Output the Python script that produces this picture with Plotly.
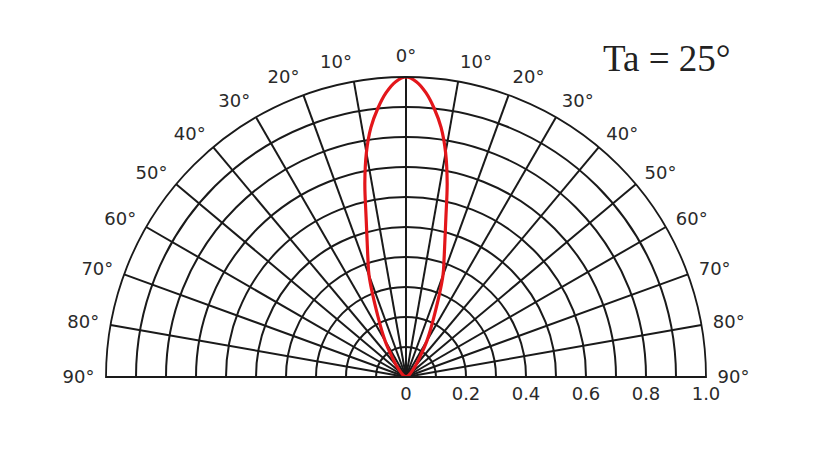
import plotly.graph_objects as go

# Beam pattern (angle in degrees off axis, relative intensity)
angles = [0, 2, 4, 6, 8, 10, 12, 14, 16, 18, 20, 25, 30, 35, 40, 50, 60, 70, 80, 90]
intensity = [1.0, 0.985, 0.95, 0.90, 0.84, 0.76, 0.66, 0.55, 0.47, 0.41, 0.36, 0.22, 0.14, 0.08, 0.05, 0.02, 0.01, 0.0, 0.0, 0.0]

angle_ticks = [-90, -80, -70, -60, -50, -40, -30, -20, -10, 0, 10, 20, 30, 40, 50, 60, 70, 80, 90]
angle_labels = [f"{abs(a)}°" for a in angle_ticks]
radial_ticks = [0, 0.1, 0.2, 0.3, 0.4, 0.5, 0.6, 0.7, 0.8, 0.9, 1.0]
radial_labels = ["0", "", "0.2", "", "0.4", "", "0.6", "", "0.8", "", "1.0"]
title_text = "Ta = 25°"

theta = [-a for a in reversed(angles)] + angles[1:]
r = list(reversed(intensity)) + intensity[1:]

fig = go.Figure()
fig.add_trace(go.Scatterpolar(
    r=r, theta=theta, mode="lines",
    line=dict(color="#e3161b", width=3.2, shape="spline"),
    showlegend=False, hoverinfo="skip",
))

grid_color = "#1a1a1a"
fig.update_layout(
    width=823, height=450,
    margin=dict(l=0, r=0, t=0, b=0),
    paper_bgcolor="white",
    font=dict(family="DejaVu Sans", size=17, color="#2a2a2a"),
    polar=dict(
        domain=dict(x=[98 / 823, 698 / 823], y=[81 / 450, 381 / 450]),
        sector=[0, 180],
        bgcolor="white",
        angularaxis=dict(
            rotation=90, direction="clockwise",
            tickmode="array",
            tickvals=angle_ticks,
            ticktext=angle_labels,
            showgrid=True, gridcolor=grid_color, gridwidth=1.5,
            showline=True, linecolor=grid_color, linewidth=1.8,
            ticks="outside", ticklen=7, tickcolor="rgba(0,0,0,0)",
            tickfont=dict(size=18, family="DejaVu Sans", color="#2a2a2a"),
        ),
        radialaxis=dict(
            range=[0, 1.0], angle=0, side="clockwise",
            tickmode="array", tickvals=radial_ticks, ticktext=radial_labels,
            showgrid=True, gridcolor=grid_color, gridwidth=1.5,
            showline=True, linecolor=grid_color, linewidth=2,
            ticks="",
            tickangle=0,
            tickfont=dict(size=18, family="DejaVu Sans", color="#2a2a2a"),
        ),
    ),
    annotations=[dict(
        text=title_text, x=593 / 823, y=1 - 51 / 450, xref="paper", yref="paper",
        showarrow=False, xanchor="left", yanchor="middle",
        font=dict(family="Liberation Serif", size=37, color="#222"),
    )],
)

fig.write_html("out.html")
